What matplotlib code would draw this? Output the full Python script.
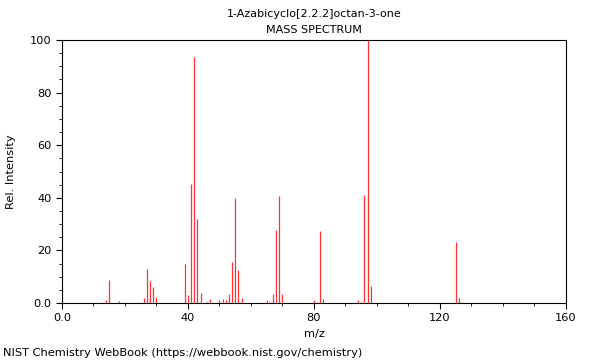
import matplotlib
matplotlib.use("Agg")
import matplotlib.pyplot as plt
from matplotlib.ticker import MultipleLocator, FuncFormatter

# m/z values and relative intensities
mz = [14, 15, 18, 26, 27, 28, 29, 30, 39, 40, 41, 42, 43, 44, 46, 47,
      50, 51, 52, 53, 54, 55, 56, 57, 65, 66, 67, 68, 69, 70,
      80, 81, 82, 83, 94, 95, 96, 97, 98, 125, 126, 127]
intensity = [1.0, 8.7, 0.8, 2.0, 13.0, 8.5, 6.2, 2.1, 14.8, 3.0, 45.1, 93.7, 32.0, 3.7, 0.5, 1.5,
             1.0, 1.5, 1.0, 3.4, 15.6, 39.8, 12.5, 2.0, 1.0, 0.5, 3.3, 27.9, 40.8, 3.4,
             1.0, 0.5, 27.4, 1.5, 1.0, 0.5, 41.0, 100.0, 6.5, 23.2, 1.8, 0.3]

fig = plt.figure(figsize=(6, 3.6), dpi=100)
ax = fig.add_axes([0.1033, 0.1583, 0.84, 0.7306])

ax.vlines(mz, 0, intensity, colors="#ff3333", linewidth=0.9)

ax.set_xlim(0, 160)
ax.set_ylim(0, 100)
ax.xaxis.set_major_locator(MultipleLocator(40))
ax.xaxis.set_minor_locator(MultipleLocator(10))
ax.yaxis.set_major_locator(MultipleLocator(20))
ax.yaxis.set_minor_locator(MultipleLocator(5))
fmt = FuncFormatter(lambda v, p: "0.0" if v == 0 else "%d" % v)
ax.xaxis.set_major_formatter(fmt)
ax.yaxis.set_major_formatter(fmt)
ax.tick_params(which="major", direction="out", length=4, labelsize=8.2)
ax.tick_params(which="minor", direction="out", length=2)

ax.set_xlabel("m/z", fontsize=8.2)
ax.set_ylabel("Rel. Intensity", fontsize=8.2, labelpad=10)

fig.text(0.523, 0.962, "1-Azabicyclo[2.2.2]octan-3-one", ha="center", va="center", fontsize=8)
fig.text(0.523, 0.917, "MASS SPECTRUM", ha="center", va="center", fontsize=8)
fig.text(0.005, 0.02, "NIST Chemistry WebBook (https://webbook.nist.gov/chemistry)",
         ha="left", va="center", fontsize=8.2)

fig.savefig("out.png", dpi=100)
